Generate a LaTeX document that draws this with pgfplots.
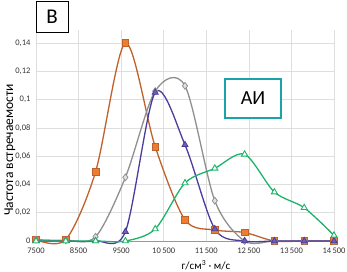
\documentclass[border=0pt]{standalone}
\usepackage{pgfplots}
\pgfplotsset{compat=1.18}
\usepackage{fontspec}
\setmainfont{Carlito}
\definecolor{cor}{HTML}{C0602A}
\definecolor{corf}{HTML}{ED7D31}
\definecolor{cgr}{HTML}{8F8F8F}
\definecolor{cgrf}{HTML}{E3E3E3}
\definecolor{cbl}{HTML}{4A3C9E}
\definecolor{cgn}{HTML}{1DB26A}
\definecolor{cteal}{HTML}{1AA3AB}
\begin{document}
\begin{tikzpicture}
\path[use as bounding box] (0,0) rectangle (347bp,272bp);
\begin{axis}[
  at={(36bp,31bp)}, anchor=south west,
  scale only axis, width=298bp, height=211bp,
  xmin=7500, xmax=14500, ymin=0, ymax=0.1492,
  axis x line*=bottom, axis y line*=left,
  x axis line style={draw=black!40, line width=0.8pt, -},
  y axis line style={draw=none},
  major tick length=0pt,
  grid=major, grid style={draw=black!13, line width=0.6pt},
  scaled x ticks=false, scaled y ticks=false,
  xtick={7500,8500,9500,10500,11500,12500,13500,14500},
  xticklabels={7500,8500,9500,10\,500,11\,500,12\,500,13\,500,14\,500},
  ytick={0,0.02,0.04,0.06,0.08,0.1,0.12,0.14},
  yticklabels={0,{0,02},{0,04},{0,06},{0,08},{0,1},{0,12},{0,14}},
  /pgf/number format/assume math mode=true,
  tick label style={font=\fontsize{8.5bp}{9bp}\selectfont, text=black!80},
  xticklabel style={yshift=-3.5bp},
  yticklabel style={xshift=-2bp},
  clip=false,
]
\addplot[cor, line width=1.3bp, smooth, tension=0.5, mark=square*, mark size=3.3bp, mark options={fill=corf, draw=cor, line width=0.8bp}]
coordinates {(7500,0.001)(8200,0.001)(8900,0.049)(9600,0.140)(10300,0.0667)(11000,0.015)(11700,0.0078)(12400,0.006)(13100,0)(13800,0)(14500,0)};
\addplot[cgr, line width=1.3bp, smooth, tension=0.5, mark=diamond*, mark size=3.4bp, mark options={fill=cgrf, draw=cgr, line width=0.8bp}]
coordinates {(7500,0.001)(8200,0.0005)(8900,0.003)(9600,0.045)(10300,0.106)(11000,0.1097)(11700,0.0285)(12400,0)(13100,0)(13800,0)(14500,0)};
\addplot[cbl, line width=1.3bp, smooth, tension=0.5, mark=triangle*, mark size=3.5bp, mark options={fill=cbl!80, draw=cbl, line width=0.8bp}]
coordinates {(7500,0)(8200,0)(8900,0)(9600,0.0066)(10300,0.105)(11000,0.068)(11700,0.0085)(12400,0)(13100,0)(13800,0)(14500,0)};
\addplot[cgn, line width=1.3bp, smooth, tension=0.5, mark=triangle*, mark size=3.5bp, mark options={fill=white, draw=cgn, line width=0.9bp}]
coordinates {(7500,0)(8200,0)(8900,0)(9600,0)(10300,0.0085)(11000,0.041)(11700,0.0514)(12400,0.0613)(13100,0.0346)(13800,0.0235)(14500,0.004)};
\end{axis}
\node[rotate=90, font=\fontsize{13.5bp}{14bp}\selectfont] at (10bp,122bp) {Частота встречаемости};
\node[anchor=base, inner sep=0pt, font=\fontsize{11bp}{12bp}\selectfont] at (206bp,2.5bp) {г/см\textsuperscript{3} · м/с};
\node[draw=black, line width=0.8bp, fill=white, minimum width=32bp, minimum height=31bp, inner sep=0pt, font=\fontsize{21bp}{22bp}\selectfont] at (52bp,255bp) {В};
\node[draw=cteal, line width=2.5bp, fill=white, minimum width=56bp, minimum height=39bp, inner sep=0pt, font=\fontsize{20bp}{21bp}\selectfont] at (253bp,173.5bp) {АИ};
\end{tikzpicture}
\end{document}
